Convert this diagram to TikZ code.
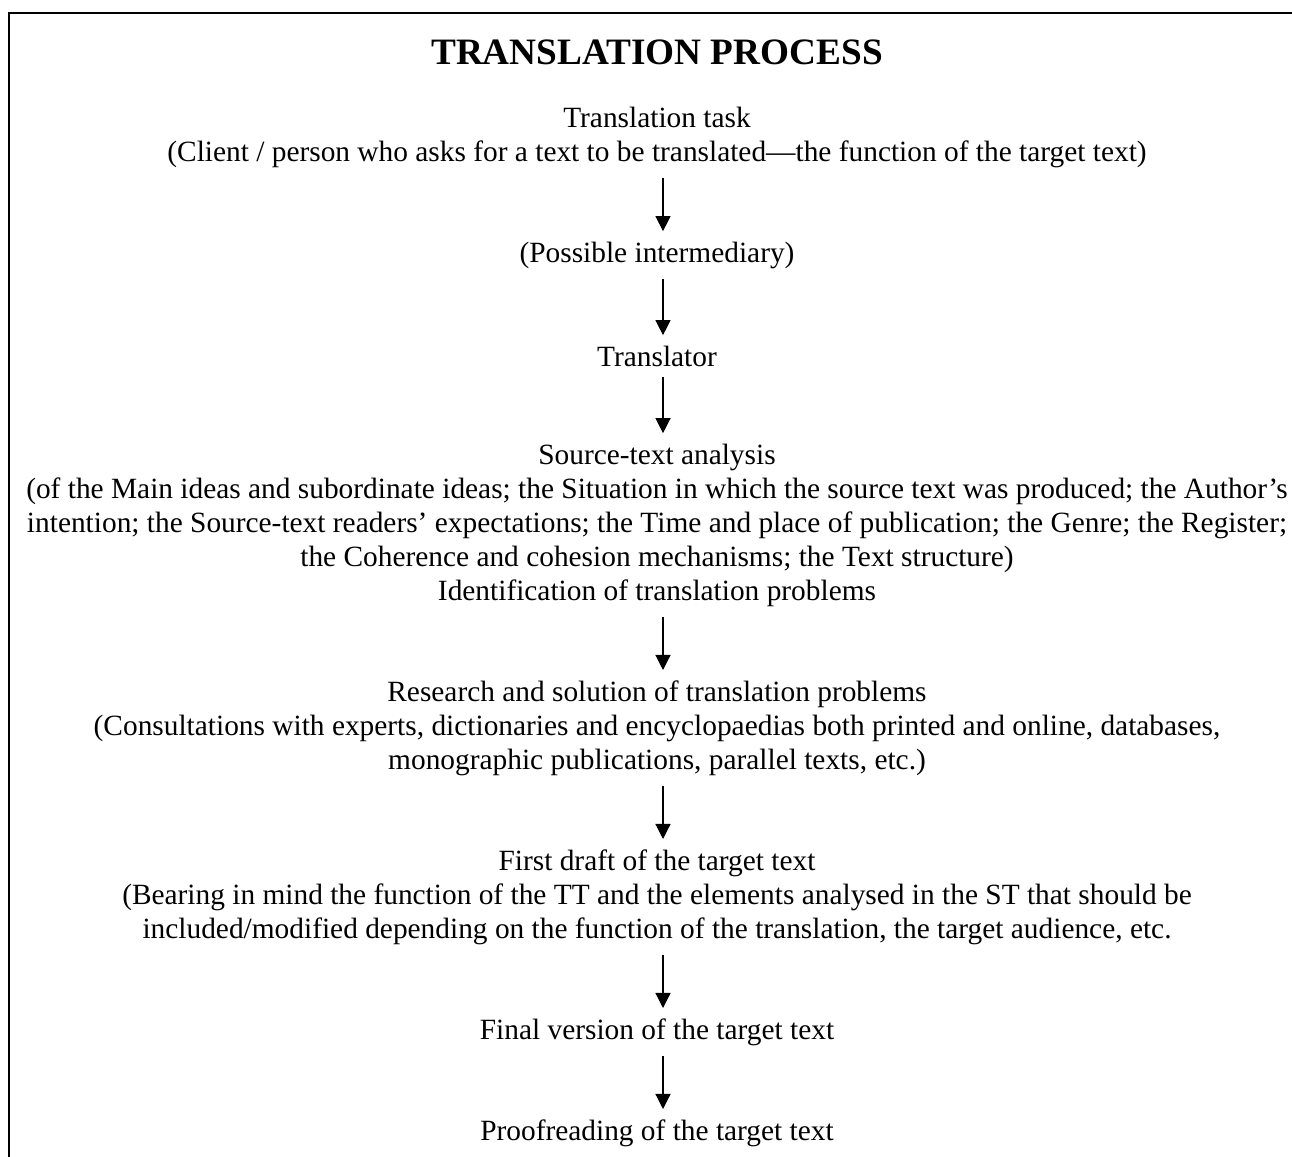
\documentclass[tikz,border=0pt]{standalone}
\usepackage{fontspec}
\setmainfont{Liberation Serif}
\usepackage{tikz}
\usetikzlibrary{
  arrows.meta,
  positioning,
}
\tikzset{
  >={Triangle[length=6pt,width=6pt]},
}

\begin{document}
\begin{tikzpicture}[x=0.4pt,y=-0.4pt,
    stage/.style={align=center,inner xsep=0pt,inner ysep=4pt,font=\fontsize{11.75}{13.6}\selectfont},
    heading/.style={inner sep=0pt,font=\fontsize{14.9}{17}\selectfont\bfseries},
    flow/.style={->,line width=0.5pt},
  ]

        \useasboundingbox (0,0) rectangle (1292,1157);
        \draw[line width=0.8pt] (9,1157) -- (9,13) -- (1292,13);

        \node[heading] (title) at (657,52) {TRANSLATION PROCESS};

        \node[stage] (task) at (657,137) {Translation task\\(Client / person who asks for a text to be translated—the function of the target text)};
        \node[stage] (inter) at (657,255) {(Possible intermediary)};
        \node[stage] (translator) at (657,356) {Translator};
        \node[stage] (analysis) at (657,525) {Source-text analysis\\(of the Main ideas and subordinate ideas; the Situation in which the source text was produced; the Author’s\\intention; the Source-text readers’ expectations; the Time and place of publication; the Genre; the Register;\\the Coherence and cohesion mechanisms; the Text structure)\\Identification of translation problems};
        \node[stage] (research) at (657,728) {Research and solution of translation problems\\(Consultations with experts, dictionaries and encyclopaedias both printed and online, databases,\\monographic publications, parallel texts, etc.)};
        \node[stage] (draft) at (657,897) {First draft of the target text\\(Bearing in mind the function of the TT and the elements analysed in the ST that should be\\included/modified depending on the function of the translation, the target audience, etc.};
        \node[stage] (final) at (657,1032) {Final version of the target text};
        \node[stage] (proof) at (657,1133) {Proofreading of the target text};

        \draw[flow] ([xshift=2.4pt]task.south) -- ([xshift=2.4pt]inter.north);
        \draw[flow] ([xshift=2.4pt]inter.south) -- ([xshift=2.4pt]translator.north);
        \draw[flow] ([xshift=2.4pt]translator.south) -- ([xshift=2.4pt]analysis.north);
        \draw[flow] ([xshift=2.4pt]analysis.south) -- ([xshift=2.4pt]research.north);
        \draw[flow] ([xshift=2.4pt]research.south) -- ([xshift=2.4pt]draft.north);
        \draw[flow] ([xshift=2.4pt]draft.south) -- ([xshift=2.4pt]final.north);
        \draw[flow] ([xshift=2.4pt]final.south) -- ([xshift=2.4pt]proof.north);

      \end{tikzpicture}
\end{document}
